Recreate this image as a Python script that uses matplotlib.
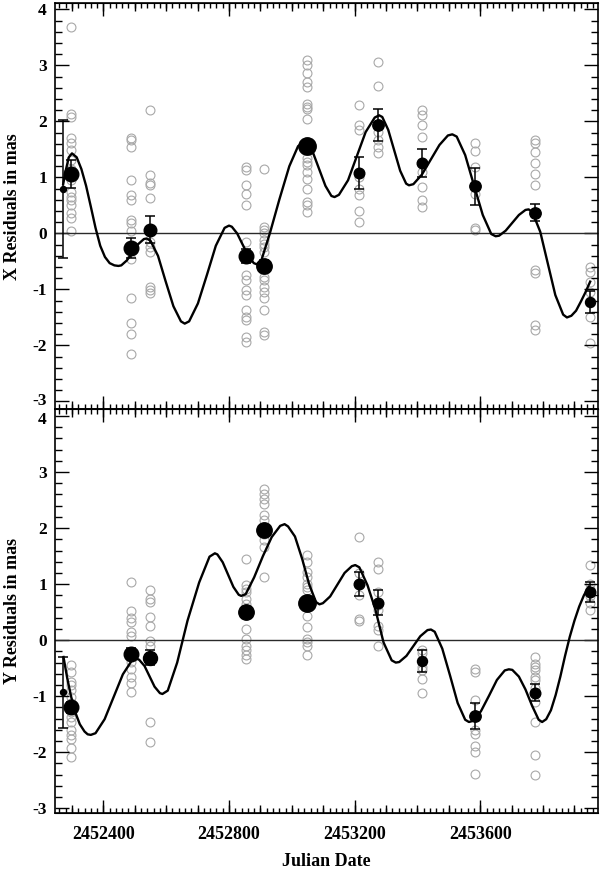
import numpy as np
import matplotlib.pyplot as plt
from matplotlib.ticker import MultipleLocator, FormatStrFormatter
from matplotlib.transforms import ScaledTranslation

# ---- data -----------------------------------------------------------------
# dates of the observation groups (grey open circles)
grp_dates = [2452297, 2452488, 2452549, 2452853, 2452912, 2453049,
             2453214, 2453274, 2453415, 2453582, 2453775, 2453949]

x_obs = [
    [3.68, 2.14, 2.08, 1.70, 1.61, 1.49, 1.31, 1.15, 0.95, 0.74, 0.65, 0.60, 0.51, 0.36, 0.27, 0.05],
    [1.71, 1.67, 1.55, 0.95, 0.68, 0.60, 0.24, 0.19, 0.05, -0.30, -0.45, -1.16, -1.60, -1.80, -2.16],
    [2.20, 1.04, 0.90, 0.86, 0.63, -0.15, -0.24, -0.33, -0.95, -1.01, -1.07],
    [1.19, 1.13, 0.86, 0.71, 0.51, -0.15, -0.40, -0.74, -0.83, -1.01, -1.10, -1.37, -1.49, -1.55, -1.85, -1.94],
    [1.15, 0.12, 0.06, 0.0, -0.12, -0.18, -0.24, -0.33, -0.77, -0.83, -0.95, -1.04, -1.16, -1.37, -1.76, -1.82],
    [3.10, 3.01, 2.86, 2.71, 2.62, 2.32, 2.26, 2.23, 2.05, 1.34, 1.28, 1.22, 1.10, 0.98, 0.80, 0.57, 0.51, 0.39],
    [2.29, 1.93, 1.85, 1.00, 0.80, 0.68, 0.40, 0.21],
    [3.07, 2.64, 1.82, 1.67, 1.55, 1.43],
    [2.20, 2.11, 1.93, 1.73, 1.10, 0.83, 0.60, 0.48],
    [1.62, 1.48, 1.19, 0.71, 0.09, 0.06],
    [1.67, 1.61, 1.46, 1.26, 1.07, 0.86, -0.65, -0.71, -1.64, -1.72],
    [-0.60, -0.69, -0.86, -1.04, -1.22, -1.49, -1.96],
]

y_obs = [
    [-0.45, -0.57, -0.74, -0.80, -0.89, -1.01, -1.12, -1.28, -1.37, -1.46, -1.61, -1.70, -1.76, -1.93, -2.08],
    [1.04, 0.52, 0.39, 0.33, 0.14, 0.07, -0.39, -0.51, -0.65, -0.77, -0.92],
    [0.89, 0.74, 0.68, 0.42, 0.26, -0.02, -0.10, -1.46, -1.82],
    [1.44, 0.98, 0.92, 0.86, 0.74, 0.65, 0.20, 0.02, -0.10, -0.18, -0.26, -0.33],
    [2.70, 2.61, 2.52, 2.43, 2.24, 2.14, 2.02, 1.90, 1.79, 1.67, 1.13],
    [1.52, 1.40, 1.22, 1.13, 1.01, 0.95, 0.89, 0.44, 0.23, 0.02, -0.04, -0.10, -0.27],
    [1.84, 1.19, 0.80, 0.37, 0.35],
    [1.40, 1.27, 0.86, 0.62, 0.53, 0.26, 0.18, -0.10],
    [-0.18, -0.23, -0.48, -0.54, -0.70, -0.95],
    [-0.51, -0.56, -1.06, -1.61, -1.67, -1.88, -1.99, -2.38],
    [-0.30, -0.42, -0.48, -0.54, -0.65, -0.71, -0.86, -1.10, -1.46, -2.05, -2.41],
    [1.35, 1.01, 0.92, 0.78, 0.67, 0.54],
]

# normal points (filled circles with error bars)
norm_dates = [2452273, 2452297, 2452488, 2452549, 2452853, 2452912, 2453049,
              2453214, 2453274, 2453415, 2453582, 2453775, 2453949]
x_norm = [0.80, 1.07, -0.26, 0.07, -0.40, -0.58, 1.56, 1.08, 1.94, 1.25, 0.84, 0.37, -1.22]
x_norm_err = [1.23, 0.25, 0.17, 0.24, 0.13, 0.10, 0.08, 0.29, 0.28, 0.25, 0.33, 0.15, 0.20]
x_norm_wt = [3.0, 7.3, 7.3, 6.3, 7.3, 7.7, 8.7, 5.3, 5.7, 5.3, 5.7, 5.7, 5.0]
y_norm = [-0.93, -1.20, -0.24, -0.31, 0.50, 1.96, 0.655, 1.00, 0.67, -0.37, -1.36, -0.94, 0.86]
y_norm_err = [0.63, 0.10, 0.10, 0.14, 0.10, 0.10, 0.08, 0.21, 0.22, 0.20, 0.23, 0.15, 0.17]
y_norm_wt = [3.0, 7.3, 7.3, 7.0, 7.7, 7.7, 8.7, 5.3, 5.3, 5.0, 5.7, 5.3, 5.3]

# model curves
x_curve_t = [2452272, 2452280, 2452290, 2452300, 2452315, 2452330, 2452345, 2452360, 2452375,
             2452390, 2452405, 2452420, 2452435, 2452448, 2452457, 2452475, 2452493, 2452511,
             2452529, 2452538, 2452550, 2452574, 2452598, 2452623, 2452647, 2452659, 2452673,
             2452701, 2452730, 2452758, 2452786, 2452800, 2452809, 2452826, 2452844, 2452862,
             2452879, 2452888, 2452903, 2452930, 2452960, 2452992, 2453020, 2453040, 2453050,
             2453069, 2453088, 2453107, 2453126, 2453136, 2453150, 2453179, 2453207, 2453235,
             2453264, 2453278, 2453288, 2453307, 2453326, 2453345, 2453364, 2453373, 2453387,
             2453414, 2453442, 2453470, 2453497, 2453511, 2453525, 2453552, 2453580, 2453608,
             2453635, 2453649, 2453660, 2453681, 2453702, 2453723, 2453744, 2453754, 2453766,
             2453791, 2453815, 2453839, 2453864, 2453876, 2453890, 2453905, 2453920, 2453935,
             2453950]
x_curve_v = [0.88, 1.12, 1.36, 1.43, 1.36, 1.15, 0.85, 0.48, 0.10,
             -0.22, -0.42, -0.53, -0.57, -0.58, -0.57, -0.48, -0.335, -0.19,
             -0.10, -0.09, -0.13, -0.40, -0.85, -1.30, -1.57, -1.61, -1.57,
             -1.25, -0.735, -0.22, 0.10, 0.14, 0.12, 0.00, -0.205, -0.41,
             -0.53, -0.55, -0.48, 0.00, 0.60, 1.20, 1.56, 1.62, 1.60,
             1.42, 1.135, 0.85, 0.67, 0.65, 0.69, 0.95, 1.38, 1.81,
             2.07, 2.11, 2.08, 1.85, 1.485, 1.12, 0.89, 0.86, 0.88,
             1.05, 1.315, 1.58, 1.75, 1.77, 1.73, 1.40, 0.86, 0.33,
             -0.01, -0.05, -0.04, 0.05, 0.19, 0.33, 0.42, 0.43, 0.38,
             0.03, -0.535, -1.10, -1.45, -1.50, -1.47, -1.38, -1.22, -1.05,
             -0.86]

y_curve_t = [2452273, 2452285, 2452297, 2452310, 2452325, 2452340, 2452350, 2452360, 2452375,
             2452404, 2452433, 2452462, 2452491, 2452506, 2452514, 2452531, 2452547, 2452563,
             2452580, 2452588, 2452605, 2452635, 2452668, 2452705, 2452738, 2452755, 2452763,
             2452780, 2452797, 2452814, 2452831, 2452839, 2452853, 2452880, 2452908, 2452936,
             2452963, 2452977, 2452988, 2453010, 2453033, 2453055, 2453077, 2453088, 2453099,
             2453122, 2453145, 2453168, 2453191, 2453202, 2453215, 2453241, 2453266, 2453292,
             2453318, 2453331, 2453342, 2453365, 2453387, 2453409, 2453432, 2453443, 2453455,
             2453479, 2453504, 2453528, 2453552, 2453564, 2453577, 2453602, 2453628, 2453653,
             2453678, 2453691, 2453702, 2453723, 2453744, 2453765, 2453786, 2453797, 2453810,
             2453825, 2453840, 2453855, 2453870, 2453885, 2453900, 2453915, 2453930, 2453945]
y_curve_v = [-0.30, -0.68, -1.00, -1.28, -1.50, -1.63, -1.68, -1.69, -1.66,
             -1.41, -1.01, -0.61, -0.36, -0.33, -0.35, -0.46, -0.645, -0.83,
             -0.945, -0.96, -0.90, -0.40, 0.35, 1.03, 1.49, 1.55, 1.53,
             1.39, 1.17, 0.95, 0.81, 0.79, 0.82, 1.12, 1.50, 1.84,
             2.04, 2.07, 2.03, 1.85, 1.45, 1.00, 0.68, 0.64, 0.66,
             0.78, 0.99, 1.20, 1.32, 1.34, 1.30, 0.98, 0.55, -0.04,
             -0.36, -0.40, -0.39, -0.28, -0.105, 0.07, 0.18, 0.19, 0.15,
             -0.15, -0.635, -1.12, -1.42, -1.46, -1.44, -1.27, -0.99, -0.71,
             -0.54, -0.52, -0.53, -0.65, -0.88, -1.17, -1.42, -1.46, -1.41,
             -1.25, -0.98, -0.65, -0.28, 0.06, 0.35, 0.60, 0.80, 0.95]

y_tick_vals = [-3, -2, -1, 0, 1, 2, 3, 4]

# ---- style ----------------------------------------------------------------
plt.rcParams['font.family'] = ['Liberation Serif', 'DejaVu Serif']
plt.rcParams['font.weight'] = 'bold'
plt.rcParams['axes.unicode_minus'] = False
FS = 13


def draw_panel(ax, obs, curve_t, curve_v, nv, ne, nw, ylim, label):
    for t, vals in zip(grp_dates, obs):
        ax.plot([t] * len(vals), vals, 'o', mfc='none', mec='#a8a8a8',
                ms=6.4, mew=0.8, zorder=1)
    ax.axhline(0, color='#2a2a2a', lw=1.0, zorder=2)
    ax.plot(curve_t, curve_v, color='black', lw=1.7, zorder=3)
    for t, v, e, w in zip(norm_dates, nv, ne, nw):
        ax.errorbar(t, v, yerr=e, fmt='o', color='black', ms=2 * w * 0.72,
                    capsize=3.6, elinewidth=1.1, capthick=1.1, zorder=4)

    ax.set_xlim(2452247, 2453974)
    ax.set_ylim(*ylim)
    ax.xaxis.set_major_locator(MultipleLocator(400))
    ax.xaxis.set_minor_locator(MultipleLocator(20))
    ax.xaxis.set_major_formatter(FormatStrFormatter('%d'))
    ax.set_yticks(y_tick_vals)
    ax.yaxis.set_minor_locator(MultipleLocator(0.2))
    ax.yaxis.set_major_formatter(FormatStrFormatter('%d'))
    ax.tick_params(which='both', direction='in', top=True, right=True, width=1.0)
    ax.tick_params(axis='x', which='major', length=9.5, pad=9, labelsize=FS)
    ax.tick_params(axis='x', which='minor', length=3.6)
    ax.tick_params(axis='y', which='major', length=10, pad=6, labelsize=12.5)
    ax.tick_params(axis='y', which='minor', length=5)
    for s in ax.spines.values():
        s.set_linewidth(1.2)

    # medium ticks every 100 days
    for loc in ('top', 'bottom'):
        sec = ax.secondary_xaxis(loc)
        sec.set_xticks(np.arange(2452300, 2454000, 100))
        sec.tick_params(direction='in', length=6, width=1.0,
                        labelbottom=False, labeltop=False)
        sec.xaxis.set_minor_locator(MultipleLocator(1000))

    ax.set_ylabel(label, fontsize=FS, fontweight='bold')
    ax.yaxis.set_label_coords(-0.063, 0.5)


fig = plt.figure(figsize=(6, 8.71), dpi=100)
ax_top = fig.add_axes([0.0922, 0.5301, 0.904, 0.4661])
ax_bot = fig.add_axes([0.0922, 0.0662, 0.904, 0.4639])

draw_panel(ax_top, x_obs, x_curve_t, x_curve_v, x_norm, x_norm_err, x_norm_wt,
           (-3.14, 4.11), 'X Residuals in mas')
draw_panel(ax_bot, y_obs, y_curve_t, y_curve_v, y_norm, y_norm_err, y_norm_wt,
           (-3.09, 4.12), 'Y Residuals in mas')

ax_top.tick_params(labelbottom=False)
ax_bot.set_xlabel('Julian Date', fontsize=FS, fontweight='bold')
ax_bot.xaxis.set_label_coords(0.5, -0.098)

# keep the "-3" and "4" labels at the panel joint apart
lab = ax_top.yaxis.get_major_ticks()[0].label1
lab.set_transform(lab.get_transform() + ScaledTranslation(0, 1.6 / 72, fig.dpi_scale_trans))
lab = ax_bot.yaxis.get_major_ticks()[-1].label1
lab.set_transform(lab.get_transform() + ScaledTranslation(0, -1.6 / 72, fig.dpi_scale_trans))

fig.savefig('out.png', dpi=100)
